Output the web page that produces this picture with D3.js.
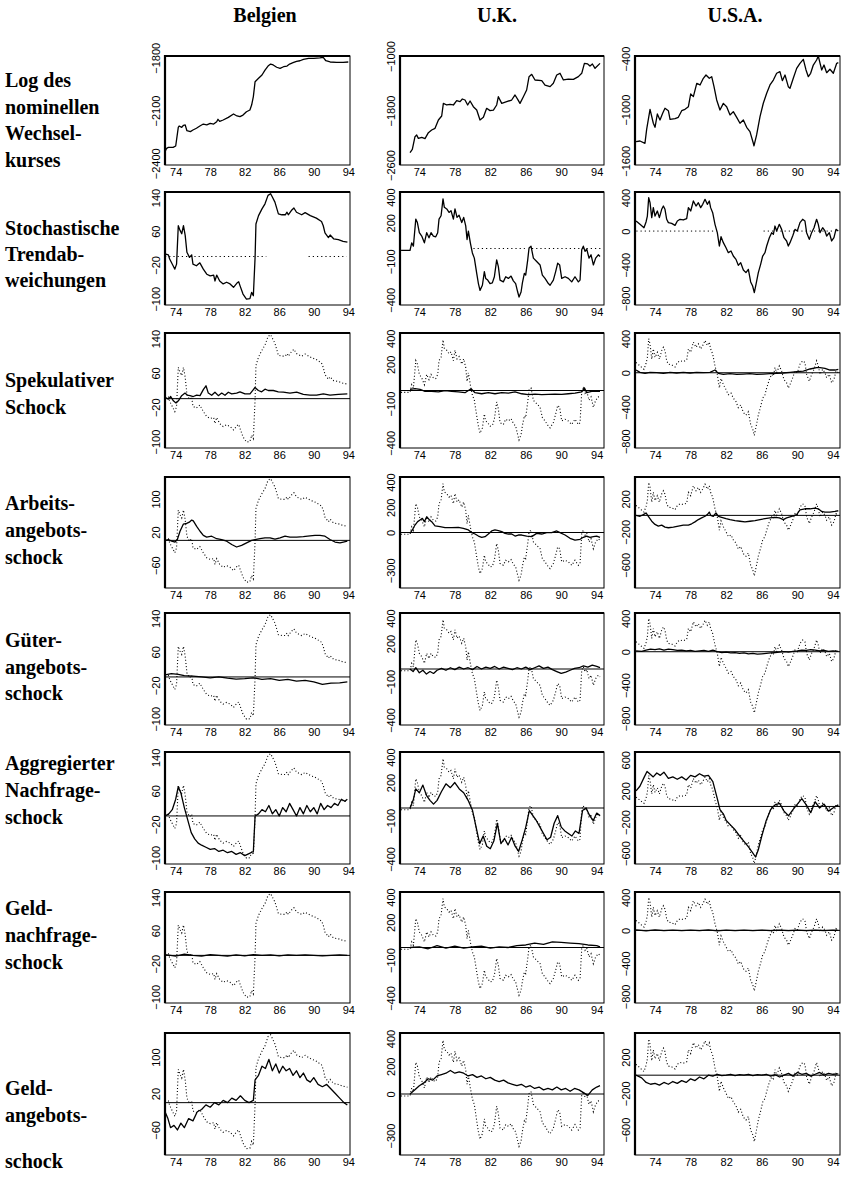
<!DOCTYPE html>
<html>
<head>
<meta charset="utf-8">
<script src="https://cdn.jsdelivr.net/npm/d3@7"></script>
<style>
  body { margin: 0; background: #fff; }
  svg { display: block; }
  .axis text { font-family: "Liberation Sans", Arial, sans-serif; font-size: 11px; fill: #000; }
  .title { font-family: "Liberation Serif", "Times New Roman", serif; font-weight: bold; font-size: 20px; fill: #000; }
</style>
</head>
<body>
<svg id="chart" width="847" height="1178"></svg>
<script>
// ---- labels ----
const columnTitles = ["Belgien", "U.K.", "U.S.A."];
const rowTitles = [
  ["Log des", "nominellen", "Wechsel-", "kurses"],
  ["Stochastische", "Trendab-", "weichungen"],
  ["Spekulativer", "Schock"],
  ["Arbeits-", "angebots-", "schock"],
  ["Güter-", "angebots-", "schock"],
  ["Aggregierter", "Nachfrage-", "schock"],
  ["Geld-", "nachfrage-", "schock"],
  ["Geld-", "angebots-", "schock"]
];
const xTickYears = [1974, 1978, 1982, 1986, 1990, 1994];

// y tick labels per column
const rateTicks   = [[-1800, -2100, -2400], [-1000, -1800, -2600], [-400, -1000, -1600]];
const shockTicks  = [[140, 60, -20, -100], [400, 200, -100, -400], [400, 0, -400, -800]];
const altTicks    = [[100, 20, -60], [400, 200, 0, -300], [200, -200, -600]];
const demandTicks = [[140, 60, -20, -100], [400, 200, -100, -400], [600, 200, -200, -600]];

// year spans in which the dotted zero reference of the trend panels is printed
const trendZeroSpans = [
  [[1972.76, 1984.5], [1989.4, 1993.8]],
  [[1980.1, 1985.9], [1986.7, 1994.6]],
  [[1971.9, 1980.9], [1986.2, 1994.4]]
];

// ---- row 1: log of nominal exchange rate (x1000) ----
const belRate = [[1972.76,-2334],[1972.95,-2315],[1973.15,-2310],[1973.7,-2310],[1974.0,-2302],[1974.3,-2196],[1974.4,-2188],[1974.7,-2196],[1974.9,-2184],[1975.1,-2182],[1975.3,-2215],[1975.7,-2220],[1976.0,-2211],[1976.4,-2201],[1976.8,-2188],[1977.2,-2177],[1977.6,-2182],[1978.0,-2173],[1978.4,-2177],[1978.75,-2164],[1978.9,-2150],[1979.1,-2162],[1979.5,-2154],[1980.1,-2139],[1980.7,-2120],[1981.1,-2131],[1981.45,-2135],[1981.8,-2126],[1982.2,-2107],[1982.6,-2097],[1982.8,-2069],[1983.0,-2021],[1983.2,-1936],[1983.6,-1917],[1984.0,-1898],[1984.35,-1870],[1984.7,-1847],[1985.0,-1836],[1985.3,-1841],[1985.7,-1854],[1986.1,-1860],[1986.5,-1851],[1986.9,-1847],[1987.2,-1836],[1987.6,-1828],[1988.0,-1820],[1988.4,-1817],[1988.8,-1809],[1989.4,-1803],[1990.0,-1803],[1990.7,-1801],[1991.1,-1798],[1991.4,-1817],[1991.9,-1824],[1992.65,-1826],[1993.4,-1826],[1994.0,-1824]];
const ukRate = [[1972.95,-2419],[1973.21,-2370],[1973.51,-2184],[1973.7,-2160],[1973.89,-2209],[1974.27,-2194],[1974.64,-2213],[1975.02,-2125],[1975.39,-2086],[1975.77,-2062],[1976.15,-1939],[1976.52,-1881],[1976.71,-1695],[1977.09,-1719],[1977.46,-1710],[1977.84,-1719],[1978.21,-1656],[1978.59,-1670],[1978.85,-1631],[1979.15,-1646],[1979.45,-1719],[1979.72,-1661],[1980.09,-1744],[1980.47,-1793],[1980.84,-1939],[1981.22,-1900],[1981.59,-1768],[1981.97,-1802],[1982.35,-1793],[1982.72,-1719],[1982.91,-1597],[1983.29,-1695],[1983.85,-1670],[1984.41,-1646],[1984.79,-1572],[1985.09,-1636],[1985.35,-1695],[1985.73,-1597],[1986.1,-1499],[1986.37,-1303],[1986.67,-1269],[1987.04,-1352],[1987.8,-1362],[1988.17,-1426],[1988.74,-1450],[1989.11,-1401],[1989.49,-1279],[1989.86,-1254],[1990.24,-1352],[1990.8,-1338],[1991.37,-1343],[1991.93,-1303],[1992.31,-1254],[1992.61,-1108],[1992.98,-1117],[1993.24,-1147],[1993.51,-1117],[1993.81,-1181],[1994.37,-1108]];
const usRate = [[1971.87,-1375],[1972.31,-1368],[1972.87,-1395],[1973.06,-1231],[1973.44,-996],[1973.81,-1160],[1974.0,-1207],[1974.26,-1051],[1974.56,-1121],[1974.86,-1043],[1975.12,-984],[1975.5,-1012],[1975.69,-1113],[1976.25,-1105],[1976.62,-1090],[1977.0,-1012],[1977.37,-996],[1977.75,-965],[1978.01,-816],[1978.31,-847],[1978.69,-691],[1979.06,-710],[1979.43,-632],[1979.73,-593],[1980.1,-632],[1980.37,-613],[1980.63,-730],[1980.93,-886],[1981.3,-1004],[1981.68,-926],[1982.05,-965],[1982.43,-1062],[1982.8,-1023],[1983.18,-1090],[1983.55,-1160],[1983.93,-1121],[1984.3,-1207],[1984.67,-1258],[1985.05,-1395],[1985.12,-1426],[1985.42,-1297],[1985.8,-1082],[1986.17,-925],[1986.55,-808],[1986.92,-710],[1987.3,-652],[1987.67,-573],[1988.04,-554],[1988.31,-660],[1988.61,-593],[1988.98,-730],[1989.17,-749],[1989.54,-632],[1989.92,-515],[1990.29,-456],[1990.67,-409],[1990.97,-534],[1991.23,-613],[1991.49,-573],[1991.79,-476],[1992.16,-417],[1992.35,-370],[1992.73,-534],[1992.99,-476],[1993.29,-566],[1993.66,-526],[1994.04,-573],[1994.42,-456],[1994.6,-448]];

// ---- row 2: stochastic trend deviations ----
const belTrend = [[1972.76,6],[1973.15,4],[1973.3,-6],[1973.7,-22],[1973.9,-30],[1974.1,-18],[1974.3,73],[1974.5,62],[1974.7,54],[1974.9,73],[1975.1,50],[1975.3,10],[1975.6,-2],[1975.85,4],[1976.0,-18],[1976.4,-22],[1976.8,-15],[1977.2,-30],[1977.6,-42],[1978.0,-46],[1978.4,-44],[1978.55,-58],[1978.75,-44],[1979.1,-58],[1979.5,-65],[1979.9,-61],[1980.3,-65],[1980.7,-73],[1981.1,-63],[1981.3,-60],[1981.45,-69],[1981.8,-89],[1982.2,-101],[1982.6,-100],[1982.8,-85],[1983.0,-93],[1983.2,-2],[1983.3,77],[1983.6,97],[1984.0,113],[1984.35,125],[1984.7,145],[1985.0,149],[1985.2,141],[1985.5,129],[1985.9,101],[1986.3,99],[1986.7,99],[1986.9,105],[1987.05,99],[1987.4,109],[1987.7,115],[1988.0,105],[1988.6,99],[1989.0,104],[1989.6,97],[1990.3,91],[1990.9,83],[1991.1,73],[1991.3,56],[1991.7,45],[1991.9,51],[1992.3,42],[1992.85,40],[1993.4,36],[1993.9,34]];
const ukTrend = [[1971.94,-14],[1972.95,-14],[1973.14,44],[1973.33,18],[1973.6,229],[1973.78,202],[1974.0,123],[1974.27,97],[1974.57,44],[1974.83,123],[1975.09,83],[1975.32,123],[1975.58,97],[1975.85,91],[1976.07,123],[1976.22,229],[1976.45,255],[1976.67,387],[1976.82,321],[1977.09,308],[1977.35,281],[1977.57,295],[1977.84,229],[1978.02,308],[1978.25,242],[1978.48,260],[1978.78,202],[1979.0,242],[1979.23,176],[1979.38,70],[1979.53,136],[1979.75,44],[1979.98,-35],[1980.2,-75],[1980.47,-194],[1980.66,-273],[1980.84,-326],[1981.11,-286],[1981.33,-180],[1981.48,-233],[1981.71,-246],[1981.97,-273],[1982.23,-268],[1982.46,-220],[1982.72,-88],[1982.91,-141],[1983.1,-246],[1983.47,-260],[1983.74,-220],[1984.04,-233],[1984.34,-215],[1984.6,-252],[1984.86,-273],[1985.09,-339],[1985.24,-378],[1985.47,-339],[1985.62,-268],[1985.84,-194],[1985.99,-207],[1986.22,-88],[1986.37,4],[1986.59,18],[1986.86,-75],[1987.23,-101],[1987.61,-128],[1987.87,-207],[1988.17,-233],[1988.55,-273],[1988.74,-286],[1989.11,-246],[1989.37,-180],[1989.6,-114],[1989.82,-128],[1990.05,-233],[1990.43,-220],[1990.8,-233],[1991.18,-260],[1991.55,-220],[1991.93,-260],[1992.12,-246],[1992.31,-9],[1992.49,18],[1992.68,-22],[1992.87,-4],[1993.13,-75],[1993.36,-49],[1993.62,-128],[1993.88,-75],[1994.18,-49],[1994.37,-62]];
const usTrend = [[1971.87,120],[1972.31,80],[1972.76,40],[1972.99,108],[1973.14,179],[1973.29,398],[1973.44,338],[1973.63,160],[1973.81,279],[1974.0,179],[1974.26,239],[1974.49,160],[1974.75,259],[1974.94,298],[1975.12,259],[1975.31,140],[1975.5,100],[1975.87,92],[1976.25,68],[1976.51,120],[1976.81,140],[1977.18,132],[1977.56,148],[1977.75,279],[1978.01,239],[1978.31,358],[1978.61,298],[1978.87,338],[1979.13,279],[1979.36,318],[1979.62,378],[1979.88,318],[1980.1,358],[1980.25,279],[1980.48,219],[1980.74,80],[1981.0,-19],[1981.23,-178],[1981.42,-67],[1981.68,-138],[1981.98,-198],[1982.24,-257],[1982.54,-237],[1982.8,-297],[1983.1,-337],[1983.36,-408],[1983.63,-376],[1983.93,-464],[1984.22,-495],[1984.49,-456],[1984.75,-606],[1984.97,-654],[1985.16,-733],[1985.35,-634],[1985.61,-495],[1985.87,-396],[1986.1,-297],[1986.36,-257],[1986.55,-178],[1986.85,-79],[1987.11,-19],[1987.3,-39],[1987.48,60],[1987.67,1],[1987.97,80],[1988.23,20],[1988.49,-79],[1988.79,-118],[1988.98,-178],[1989.17,-138],[1989.47,-59],[1989.73,20],[1989.99,1],[1990.29,100],[1990.59,140],[1990.85,120],[1991.04,-19],[1991.34,-99],[1991.6,-19],[1991.87,40],[1992.16,140],[1992.35,80],[1992.54,-19],[1992.84,40],[1993.1,1],[1993.29,-59],[1993.59,-19],[1993.85,-118],[1994.11,-79],[1994.34,20],[1994.6,1]];

// ---- row 3: speculative shock ----
const belSpec = [[1972.76,3],[1973.15,-1],[1973.42,5],[1973.73,-5],[1974.03,-10],[1974.31,-5],[1974.69,7],[1975.08,13],[1975.35,8],[1975.66,7],[1976.04,5],[1976.43,8],[1976.82,7],[1977.2,21],[1977.51,30],[1977.78,13],[1978.17,8],[1978.55,15],[1978.94,7],[1979.33,13],[1979.71,8],[1980.1,15],[1980.49,11],[1981.06,13],[1981.45,16],[1982.03,11],[1982.61,11],[1983.0,21],[1983.19,26],[1983.58,19],[1983.96,16],[1984.35,22],[1984.73,19],[1985.31,19],[1985.89,16],[1986.47,15],[1987.24,13],[1988.02,15],[1988.79,10],[1989.56,8],[1990.33,8],[1991.11,11],[1991.88,8],[1992.85,10],[1993.89,11]];
const ukSpec = [[1972.95,9],[1973.51,14],[1974.08,9],[1974.64,-6],[1975.39,-6],[1976.15,-11],[1976.9,-1],[1977.65,-6],[1978.4,-11],[1979.15,-17],[1979.83,14],[1980.28,-17],[1981.03,-25],[1981.78,-17],[1982.53,-25],[1983.29,-17],[1984.04,-20],[1984.79,-11],[1985.54,-25],[1986.29,-32],[1987.04,-27],[1987.8,-32],[1988.55,-30],[1989.3,-27],[1990.05,-30],[1990.8,-25],[1991.55,-20],[1992.31,-11],[1992.61,20],[1992.87,-17],[1993.43,-6],[1994.37,-6]];
const usSpec = [[1971.87,32],[1972.31,5],[1972.88,-7],[1973.44,5],[1974.19,1],[1974.94,-7],[1975.69,5],[1976.43,-3],[1977.18,5],[1977.93,-3],[1978.68,5],[1979.43,1],[1980.18,5],[1980.74,32],[1981.12,-7],[1981.68,-18],[1982.43,-11],[1983.18,-18],[1983.93,-15],[1984.67,-11],[1985.42,-18],[1986.17,-15],[1986.92,-11],[1987.67,-7],[1988.42,-3],[1989.17,5],[1989.92,13],[1990.67,20],[1991.42,44],[1992.16,60],[1992.54,60],[1993.1,52],[1993.66,32],[1994.22,32],[1994.6,40]];

// ---- row 4: labour supply shock ----
const belLabour = [[1972.76,0],[1973.15,2],[1973.53,-2],[1973.92,-4],[1974.19,2],[1974.5,22],[1974.88,39],[1975.27,41],[1975.58,44],[1975.85,49],[1976.04,47],[1976.43,34],[1976.82,22],[1977.2,12],[1977.59,8],[1978.17,10],[1978.75,4],[1979.33,2],[1979.91,-2],[1980.49,-10],[1981.06,-16],[1981.64,-12],[1982.22,-6],[1982.8,0],[1983.19,2],[1983.77,4],[1984.35,6],[1984.93,6],[1985.51,3],[1986.09,6],[1986.67,10],[1987.24,8],[1988.02,8],[1988.79,9],[1989.56,11],[1990.14,12],[1990.72,12],[1991.3,10],[1991.88,2],[1992.46,-4],[1993.04,-6],[1993.42,-4],[1993.89,-2]];
const ukLabour = [[1972.95,-7],[1973.21,20],[1973.51,59],[1973.81,86],[1974.08,99],[1974.34,112],[1974.57,86],[1974.83,125],[1975.09,104],[1975.39,86],[1975.77,52],[1976.33,46],[1976.9,38],[1977.65,38],[1978.4,41],[1978.96,33],[1979.53,20],[1979.9,-1],[1980.28,-12],[1980.66,-28],[1981.03,-38],[1981.41,-33],[1981.78,-12],[1982.16,12],[1982.53,20],[1982.91,15],[1983.29,7],[1983.66,-7],[1984.04,-12],[1984.41,-12],[1984.79,-28],[1985.16,-20],[1985.54,-20],[1986.1,-28],[1986.67,-33],[1987.23,-7],[1987.8,-12],[1988.36,-1],[1988.92,-1],[1989.49,12],[1989.86,-1],[1990.43,-20],[1990.99,-46],[1991.55,-60],[1992.12,-54],[1992.49,-38],[1992.87,-28],[1993.24,-38],[1993.62,-33],[1993.99,-28],[1994.37,-38]];
const usLabour = [[1971.87,1],[1972.31,-11],[1972.69,9],[1972.99,29],[1973.25,-11],[1973.63,-71],[1974.0,-110],[1974.37,-130],[1974.75,-118],[1975.12,-142],[1975.5,-150],[1976.06,-142],[1976.62,-130],[1977.18,-118],[1977.75,-118],[1978.12,-102],[1978.49,-79],[1978.87,-51],[1979.24,-31],[1979.62,-11],[1979.88,9],[1980.1,40],[1980.25,1],[1980.55,-11],[1980.85,29],[1981.12,-11],[1981.49,-23],[1981.98,-39],[1982.43,-51],[1982.99,-63],[1983.55,-71],[1984.11,-79],[1984.67,-71],[1985.24,-63],[1985.8,-51],[1986.36,-39],[1986.92,-31],[1987.48,-23],[1987.97,-31],[1988.42,-51],[1988.79,-31],[1989.36,-11],[1989.92,9],[1990.29,68],[1990.85,80],[1991.42,80],[1991.98,88],[1992.35,80],[1992.73,48],[1993.1,40],[1993.66,40],[1994.22,48],[1994.6,56]];

// ---- row 5: goods supply shock ----
const belGoods = [[1972.76,5],[1973.5,8],[1974.3,6],[1975.0,3],[1976.0,2],[1977.0,0],[1978.0,-2],[1979.0,0],[1980.0,-3],[1981.0,-5],[1982.0,-4],[1983.0,-2],[1984.0,-6],[1985.0,-4],[1986.0,-8],[1987.0,-6],[1988.0,-10],[1989.0,-8],[1990.0,-12],[1991.0,-18],[1992.0,-15],[1993.0,-14],[1993.89,-12]];
const ukGoods = [[1972.95,0],[1973.3,-20],[1973.6,10],[1974.0,-30],[1974.4,-10],[1974.8,-40],[1975.2,-20],[1975.6,-35],[1976.0,-10],[1976.5,5],[1977.0,-10],[1977.5,10],[1978.0,-5],[1978.5,15],[1979.0,0],[1979.5,10],[1980.0,-5],[1980.5,20],[1981.0,0],[1981.5,15],[1982.0,5],[1982.5,20],[1983.0,0],[1983.5,15],[1984.0,5],[1984.5,-5],[1985.0,10],[1985.5,0],[1986.0,15],[1986.5,-5],[1987.0,10],[1987.5,25],[1988.0,5],[1988.5,15],[1989.0,-5],[1989.5,-20],[1990.0,-35],[1990.5,-25],[1991.0,-10],[1991.5,5],[1992.0,10],[1992.5,25],[1993.0,15],[1993.5,30],[1994.0,20],[1994.37,10]];
const usGoods = [[1971.87,10],[1972.5,5],[1973.0,20],[1973.5,30],[1974.0,25],[1974.5,35],[1975.0,20],[1975.5,30],[1976.0,25],[1976.5,15],[1977.0,20],[1977.5,10],[1978.0,15],[1978.5,5],[1979.0,10],[1979.5,15],[1980.0,5],[1980.5,20],[1981.0,0],[1981.5,-10],[1982.0,-5],[1982.5,-15],[1983.0,-10],[1983.5,-20],[1984.0,-15],[1984.5,-25],[1985.0,-20],[1985.5,-30],[1986.0,-25],[1986.5,-20],[1987.0,-15],[1987.5,-10],[1988.0,-5],[1988.5,0],[1989.0,-5],[1989.5,5],[1990.0,10],[1990.5,20],[1991.0,15],[1991.5,25],[1992.0,20],[1992.5,10],[1993.0,15],[1993.5,5],[1994.0,10],[1994.6,5]];

// ---- row 6: aggregate demand shock ----
const belDemand = [[1972.76,0],[1973.2,5],[1973.6,15],[1974.0,40],[1974.3,70],[1974.6,55],[1975.0,20],[1975.4,-10],[1975.8,-40],[1976.2,-55],[1976.6,-65],[1977.0,-70],[1977.5,-75],[1978.0,-80],[1978.5,-78],[1979.0,-85],[1979.5,-82],[1980.0,-88],[1980.5,-85],[1981.0,-92],[1981.5,-88],[1982.0,-95],[1982.5,-90],[1983.0,-85],[1983.2,0],[1983.6,5],[1984.0,15],[1984.4,10],[1984.8,25],[1985.2,5],[1985.6,15],[1986.0,0],[1986.4,20],[1986.8,10],[1987.2,30],[1987.6,15],[1988.0,0],[1988.4,20],[1988.8,5],[1989.2,25],[1989.6,10],[1990.0,20],[1990.4,5],[1990.8,30],[1991.2,15],[1991.6,25],[1992.0,20],[1992.4,30],[1992.8,25],[1993.2,40],[1993.6,35],[1993.89,40]];
const ukDemand = [[1972.95,0],[1973.3,60],[1973.6,150],[1974.0,120],[1974.4,180],[1974.8,100],[1975.2,60],[1975.6,30],[1976.0,60],[1976.5,130],[1977.0,190],[1977.5,160],[1978.0,200],[1978.5,150],[1979.0,120],[1979.5,60],[1980.0,-20],[1980.4,-150],[1980.8,-280],[1981.2,-220],[1981.6,-300],[1982.0,-320],[1982.4,-260],[1982.8,-120],[1983.2,-280],[1983.6,-240],[1984.0,-290],[1984.4,-230],[1984.8,-300],[1985.2,-340],[1985.6,-250],[1986.0,-150],[1986.4,-20],[1986.8,-60],[1987.2,-100],[1987.6,-150],[1988.0,-200],[1988.4,-250],[1988.8,-230],[1989.2,-120],[1989.6,-60],[1990.0,-150],[1990.4,-180],[1990.8,-200],[1991.2,-220],[1991.6,-180],[1992.0,-200],[1992.4,-20],[1992.8,0],[1993.2,-60],[1993.6,-100],[1994.0,-40],[1994.37,-60]];
const usDemand = [[1971.87,200],[1972.3,260],[1972.8,380],[1973.1,450],[1973.4,420],[1973.8,380],[1974.2,430],[1974.6,400],[1975.0,440],[1975.5,360],[1976.0,380],[1976.5,350],[1977.0,380],[1977.5,340],[1978.0,400],[1978.5,380],[1979.0,420],[1979.5,390],[1980.0,400],[1980.5,320],[1981.0,100],[1981.3,-40],[1981.7,-100],[1982.0,-180],[1982.5,-240],[1983.0,-300],[1983.5,-380],[1984.0,-450],[1984.5,-520],[1985.0,-600],[1985.3,-650],[1985.6,-560],[1986.0,-380],[1986.5,-180],[1987.0,-40],[1987.5,20],[1988.0,40],[1988.5,-60],[1989.0,-120],[1989.5,-40],[1990.0,30],[1990.5,100],[1991.0,20],[1991.5,-80],[1992.0,60],[1992.5,-20],[1993.0,30],[1993.5,-60],[1994.0,-20],[1994.6,20]];

// ---- row 7: money demand shock ----
const belMoneyDemand = [[1972.76,2],[1974.0,-2],[1975.0,3],[1976.0,0],[1977.0,-2],[1978.0,2],[1979.0,0],[1980.0,-2],[1981.0,1],[1982.0,-1],[1983.0,2],[1984.0,0],[1985.0,1],[1986.0,-1],[1987.0,1],[1988.0,0],[1989.0,1],[1990.0,0],[1991.0,-1],[1992.0,0],[1993.0,1],[1993.89,0]];
const ukMoneyDemand = [[1972.95,0],[1974.0,5],[1975.0,-10],[1976.0,15],[1977.0,-5],[1978.0,10],[1979.0,-5],[1980.0,5],[1981.0,10],[1982.0,-5],[1983.0,5],[1984.0,0],[1985.0,15],[1986.0,20],[1987.0,35],[1988.0,25],[1989.0,45],[1990.0,40],[1991.0,35],[1992.0,30],[1993.0,20],[1994.0,15],[1994.37,5]];
const usMoneyDemand = [[1971.87,5],[1973.0,-5],[1974.0,5],[1975.0,-3],[1976.0,4],[1977.0,-4],[1978.0,3],[1979.0,-3],[1980.0,5],[1981.0,-5],[1982.0,3],[1983.0,-4],[1984.0,2],[1985.0,-3],[1986.0,4],[1987.0,-2],[1988.0,3],[1989.0,-3],[1990.0,4],[1991.0,-2],[1992.0,3],[1993.0,-3],[1994.0,2],[1994.6,0]];

// ---- row 8: money supply shock ----
const belMoneySupply = [[1972.76,-20],[1973.1,-35],[1973.4,-55],[1973.8,-50],[1974.2,-60],[1974.6,-45],[1975.0,-55],[1975.5,-35],[1976.0,-40],[1976.5,-20],[1977.0,-15],[1977.5,-5],[1978.0,-10],[1978.5,0],[1979.0,-5],[1979.5,5],[1980.0,0],[1980.5,10],[1981.0,5],[1981.5,15],[1982.0,5],[1982.5,0],[1983.0,5],[1983.2,50],[1983.6,60],[1984.0,80],[1984.4,75],[1984.8,95],[1985.2,70],[1985.6,85],[1986.0,65],[1986.4,80],[1986.8,70],[1987.2,75],[1987.6,60],[1988.0,70],[1988.4,55],[1988.8,65],[1989.2,50],[1989.6,45],[1990.0,55],[1990.5,40],[1991.0,35],[1991.5,40],[1992.0,30],[1992.5,20],[1993.0,10],[1993.5,0],[1993.89,-5]];
const ukMoneySupply = [[1972.95,0],[1973.5,30],[1974.0,60],[1974.5,80],[1975.0,110],[1975.5,100],[1976.0,130],[1976.5,140],[1977.0,150],[1977.5,170],[1978.0,150],[1978.5,160],[1979.0,150],[1979.5,130],[1980.0,140],[1980.5,120],[1981.0,130],[1981.5,110],[1982.0,120],[1982.5,100],[1983.0,90],[1983.5,100],[1984.0,80],[1984.5,70],[1985.0,60],[1985.5,70],[1986.0,50],[1986.5,60],[1987.0,40],[1987.5,50],[1988.0,30],[1988.5,40],[1989.0,30],[1989.5,50],[1990.0,30],[1990.5,40],[1991.0,20],[1991.5,40],[1992.0,30],[1992.5,10],[1993.0,-10],[1993.5,30],[1994.0,50],[1994.37,60]];
const usMoneySupply = [[1971.87,0],[1972.5,-30],[1973.0,-80],[1973.5,-100],[1974.0,-90],[1974.5,-110],[1975.0,-80],[1975.5,-100],[1976.0,-70],[1976.5,-90],[1977.0,-60],[1977.5,-80],[1978.0,-40],[1978.5,-60],[1979.0,-20],[1979.5,-40],[1980.0,0],[1980.5,-10],[1981.0,10],[1981.5,-5],[1982.0,0],[1982.5,10],[1983.0,-5],[1983.5,5],[1984.0,0],[1984.5,10],[1985.0,-5],[1985.5,5],[1986.0,0],[1986.5,10],[1987.0,-10],[1987.5,5],[1988.0,-20],[1988.5,0],[1989.0,20],[1989.5,-10],[1990.0,30],[1990.5,10],[1991.0,20],[1991.5,-10],[1992.0,10],[1992.5,30],[1993.0,0],[1993.5,20],[1994.0,10],[1994.6,15]];

// ---- layout ----
const W = 847, H = 1178;
const colX = [[165, 350], [400, 604], [635, 840]];
const colYears = [[1972.76, 1994.2], [1971.82, 1994.82], [1971.75, 1994.79]];
const rowY = [[56, 165], [192, 305], [333, 448], [477, 588], [613, 725], [752, 864], [892, 1003], [1033, 1155]];
const rateDomains = [[-2410, -1790], [-2600, -1000], [-1650, -370]];
const shockDomains = [[-115, 153], [-440, 440], [-880, 465]];
const usDemandDomain = [-740, 700];
const headX = [265, 497, 735];
const rowTitleBaselines = [
  [87, 114, 140, 167],
  [235, 261, 287],
  [387, 414],
  [510, 537, 564],
  [647, 674, 700],
  [770, 797, 824],
  [915, 942, 969],
  [1095, 1122, 1168]
];

const trends = [belTrend, ukTrend, usTrend];
const rows = [
  { series: [belRate, ukRate, usRate], ticks: rateTicks, kind: "rate" },
  { series: trends, ticks: shockTicks, kind: "trend" },
  { series: [belSpec, ukSpec, usSpec], ticks: shockTicks, kind: "shock" },
  { series: [belLabour, ukLabour, usLabour], ticks: altTicks, kind: "shock" },
  { series: [belGoods, ukGoods, usGoods], ticks: shockTicks, kind: "shock" },
  { series: [belDemand, ukDemand, usDemand], ticks: demandTicks, kind: "shock" },
  { series: [belMoneyDemand, ukMoneyDemand, usMoneyDemand], ticks: shockTicks, kind: "shock" },
  { series: [belMoneySupply, ukMoneySupply, usMoneySupply], ticks: altTicks, kind: "shock" }
];

const svg = d3.select("#chart");
svg.append("rect").attr("width", W).attr("height", H).attr("fill", "#fff");

// column headings
columnTitles.forEach((t, i) => {
  svg.append("text").attr("class", "title").attr("x", headX[i]).attr("y", 22)
    .attr("text-anchor", "middle").text(t);
});

// row headings
rowTitles.forEach((lines, r) => {
  lines.forEach((s, k) => {
    svg.append("text").attr("class", "title").attr("x", 5).attr("y", rowTitleBaselines[r][k]).text(s);
  });
});

const defs = svg.append("defs");

rows.forEach((row, r) => {
  const [y0, y1] = rowY[r];
  for (let c = 0; c < 3; c++) {
    const [x0, x1] = colX[c];
    const x = d3.scaleLinear().domain(colYears[c]).range([x0, x1]);
    let dom;
    if (row.kind === "rate") dom = rateDomains[c];
    else if (r === 5 && c === 2) dom = usDemandDomain;
    else dom = shockDomains[c];
    const y = d3.scaleLinear().domain(dom).range([y1, y0]);

    const clipId = `clip-${r}-${c}`;
    defs.append("clipPath").attr("id", clipId)
      .append("rect").attr("x", x0).attr("y", y0).attr("width", x1 - x0).attr("height", y1 - y0);

    const g = svg.append("g");
    const plot = g.append("g").attr("clip-path", `url(#${clipId})`);
    const line = d3.line().x(d => x(d[0])).y(d => y(d[1]));

    if (row.kind === "trend") {
      // dotted zero reference, printed in pieces
      plot.selectAll("line.zero").data(trendZeroSpans[c]).join("line").attr("class", "zero")
        .attr("x1", d => x(d[0])).attr("x2", d => x(d[1]))
        .attr("y1", y(0)).attr("y2", y(0))
        .attr("stroke", "#000").attr("stroke-width", 1).attr("stroke-dasharray", "1.2,3");
    } else if (row.kind === "shock") {
      plot.append("line").attr("x1", x0).attr("x2", x1).attr("y1", y(0)).attr("y2", y(0))
        .attr("stroke", "#000").attr("stroke-width", 1);
      // stochastic trend deviation, dotted
      plot.append("path").datum(trends[c]).attr("d", line)
        .attr("fill", "none").attr("stroke", "#000").attr("stroke-width", 1.1)
        .attr("stroke-dasharray", "1,2.2");
    }

    plot.append("path").datum(row.series[c]).attr("d", line)
      .attr("fill", "none").attr("stroke", "#000").attr("stroke-width", 1.3)
      .attr("stroke-linejoin", "round");

    // frame: heavier top and left edges
    g.append("rect").attr("x", x0).attr("y", y0).attr("width", x1 - x0).attr("height", y1 - y0)
      .attr("fill", "none").attr("stroke", "#000").attr("stroke-width", 1);
    g.append("path").attr("d", `M${x0},${y1}V${y0}H${x1}`)
      .attr("fill", "none").attr("stroke", "#000").attr("stroke-width", 2.2);

    // x axis labels
    const xa = g.append("g").attr("class", "axis").attr("transform", `translate(0,${y1})`)
      .call(d3.axisBottom(x).tickValues(xTickYears).tickSize(0).tickPadding(3)
        .tickFormat(d => String(d).slice(2)));
    xa.select(".domain").remove();

    // y axis labels (rotated)
    const ya = g.append("g").attr("class", "axis").attr("transform", `translate(${x0},0)`)
      .call(d3.axisLeft(y).tickValues(row.ticks[c]).tickSize(0).tickFormat(d3.format("d")));
    ya.select(".domain").remove();
    ya.selectAll(".tick text")
      .attr("x", 0).attr("dy", null)
      .attr("transform", "translate(-9,0) rotate(-90)")
      .attr("text-anchor", "middle")
      .attr("dominant-baseline", "central");
  }
});
</script>
</body>
</html>
